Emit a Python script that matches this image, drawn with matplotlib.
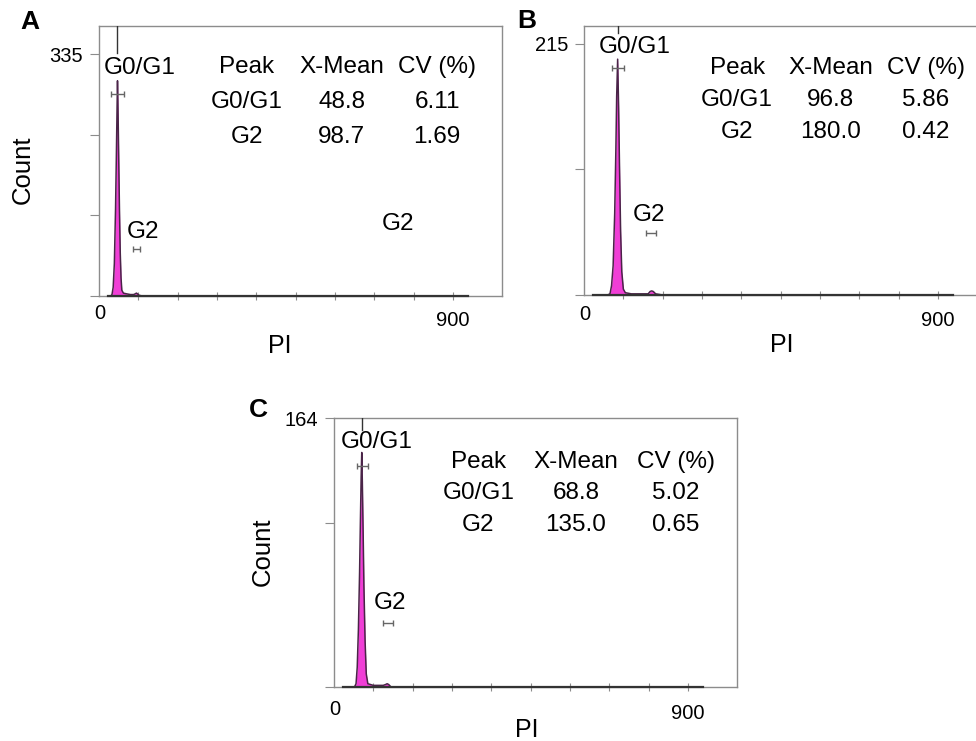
import numpy as np
import matplotlib
matplotlib.use("Agg")
import matplotlib.pyplot as plt

plt.rcParams['font.family'] = ['Liberation Sans', 'DejaVu Sans']

# histogram outlines (PI channel, count)
pi_a = [23, 30, 33, 36, 39, 42, 44, 46, 47, 48, 50, 52, 54, 56, 58, 62, 70, 80, 88, 92, 95, 98, 102, 110, 938]
count_a = [0, 0, 2, 12, 45, 120, 190, 265, 298, 270, 195, 120, 60, 25, 8, 4, 3, 2, 2, 3, 4, 3, 1, 0, 0]

pi_b = [23, 60, 66, 70, 74, 78, 81, 83, 85.5, 88, 90, 93, 96, 100, 105, 120, 150, 163, 168, 172, 176, 182, 200, 938]
count_b = [0, 0, 1, 8, 25, 70, 125, 170, 202, 160, 115, 55, 20, 5, 2, 1, 1, 1, 3, 3.5, 3, 1, 0, 0]

pi_c = [23, 52, 56, 59, 62, 65, 67, 69, 70.5, 72, 74, 76, 79, 82, 86, 100, 125, 131, 135, 139, 145, 938]
count_c = [0, 0, 2, 12, 35, 70, 100, 128, 143, 125, 95, 62, 28, 8, 2, 1, 1, 1.5, 2, 1.5, 0, 0]

# peak tables
table_header = ["Peak", "X-Mean", "CV (%)"]
peaks = ["G0/G1", "G2"]
xmean_a = ["48.8", "98.7"]
cv_a = ["6.11", "1.69"]
xmean_b = ["96.8", "180.0"]
cv_b = ["5.86", "0.42"]
xmean_c = ["68.8", "135.0"]
cv_c = ["5.02", "0.65"]

# y axis maxima and labelled top ticks
ymax = [373.8, 230.4, 164]
ytop = [335, 215, 164]
yticks = [[0, 335 / 3, 670 / 3, 335], [0, 107.5, 215], [0, 100, 164]]

W, H = 976, 741
fig = plt.figure(figsize=(W / 100, H / 100), dpi=100)


def make_ax(left, top, bottom, width=403):
    return fig.add_axes([left / W, 1 - bottom / H, width / W, (bottom - top) / H])


ax_a = make_ax(99, 26, 296)
ax_b = make_ax(584, 26, 295)
ax_c = make_ax(334, 418, 687)

frame = '#8c8c8c'
fill_col = '#f03ed6'
edge_col = '#4a2448'
bar_col = '#666666'
fs = 17.5
tfs = 14.5


def draw_panel(ax, pi, cnt, ym, ytks, ylab, marker_x, marker_y0,
               g1_lab, g1_bar, g2_lab, g2_bar, tab_x, tab_y,
               xmean, cv, zero_y, nine_y):
    ax.fill_between(pi, cnt, color=fill_col, lw=0, zorder=2)
    ax.plot(pi, cnt, color=edge_col, lw=1.1, zorder=3, clip_on=False)
    ax.plot([pi[0], pi[-1]], [0, 0], color='#333333', lw=1.6, zorder=3, clip_on=False)
    ax.set_xlim(0, 1024)
    ax.set_ylim(0, ym)

    for s in ax.spines.values():
        s.set_color(frame)
        s.set_linewidth(1.0)

    ax.set_xticks(range(100, 1000, 100))
    ax.set_xticklabels([])
    ax.tick_params(axis='x', direction='inout', length=6, color=frame, width=0.8)
    ax.set_yticks(ytks)
    ax.set_yticklabels([''] * (len(ytks) - 1) + [str(ylab)], fontsize=tfs)
    ax.tick_params(axis='y', direction='out', length=6.5, color=frame, width=0.8, pad=5)

    tr = ax.get_xaxis_transform()
    ax.text(2, zero_y, "0", transform=tr, ha='center', va='center', fontsize=tfs)
    ax.text(899, nine_y, "900", transform=tr, ha='center', va='center', fontsize=tfs)

    # mean marker line at top
    ax.plot([marker_x, marker_x], [marker_y0, ym], color='#333333', lw=1, zorder=3)

    ax.text(g1_lab[0], g1_lab[1], "G0/G1", ha='center', va='center', fontsize=fs, zorder=4)
    ax.errorbar(g1_bar[0], g1_bar[1], xerr=g1_bar[2], fmt='none', ecolor=bar_col,
                elinewidth=1, capsize=2.2, capthick=1, zorder=4)
    ax.text(g2_lab[0], g2_lab[1], "G2", ha='center', va='center', fontsize=fs, zorder=4)
    ax.errorbar(g2_bar[0], g2_bar[1], xerr=g2_bar[2], fmt='none', ecolor=bar_col,
                elinewidth=1, capsize=2.2, capthick=1, zorder=4)

    rows = [table_header] + [[peaks[i], xmean[i], cv[i]] for i in range(2)]
    for r, row in enumerate(rows):
        for c, txt in enumerate(row):
            ax.text(tab_x[c], tab_y[r], txt, ha='center', va='center', fontsize=fs)


draw_panel(ax_a, pi_a, count_a, ymax[0], yticks[0], ytop[0], 47, 336,
           (104, 316), (47, 280, 16), (112, 89), (95, 65, 9),
           [376, 617, 859], [317, 269, 220], xmean_a, cv_a, -0.063, -0.089)
ax_a.text(760, 100, "G2", ha='center', va='center', fontsize=fs)

draw_panel(ax_b, pi_b, count_b, ymax[1], yticks[1], ytop[1], 86.4, 224,
           (130, 212), (86.4, 194, 15), (165, 68.5), (170, 53, 13),
           [389, 627, 869], [194.5, 167, 139.6], xmean_b, cv_b, -0.074, -0.093)

draw_panel(ax_c, pi_c, count_c, ymax[2], yticks[2], ytop[2], 71, 156.7,
           (109, 149.4), (72.4, 134.7, 14), (142, 51.2), (137, 39, 12.7),
           [367, 615, 869], [137.2, 118.3, 98.8], xmean_c, cv_c, -0.085, -0.097)

# axis titles
ax_a.text(-0.189, 0.467, "Count", transform=ax_a.transAxes, rotation=90,
          ha='center', va='center', fontsize=18.5)
ax_c.text(-0.176, 0.502, "Count", transform=ax_c.transAxes, rotation=90,
          ha='center', va='center', fontsize=18.5)
ax_a.text(0.449, -0.185, "PI", transform=ax_a.transAxes, ha='center', va='center', fontsize=18)
ax_b.text(0.491, -0.186, "PI", transform=ax_b.transAxes, ha='center', va='center', fontsize=18)
ax_c.text(0.479, -0.160, "PI", transform=ax_c.transAxes, ha='center', va='center', fontsize=18)

# panel letters
fig.text(30 / W, 1 - 22 / H, "A", fontsize=19, fontweight='bold', ha='center', va='center')
fig.text(527 / W, 1 - 21 / H, "B", fontsize=19, fontweight='bold', ha='center', va='center')
fig.text(258 / W, 1 - 410 / H, "C", fontsize=19, fontweight='bold', ha='center', va='center')

fig.savefig("out.png", dpi=100)
